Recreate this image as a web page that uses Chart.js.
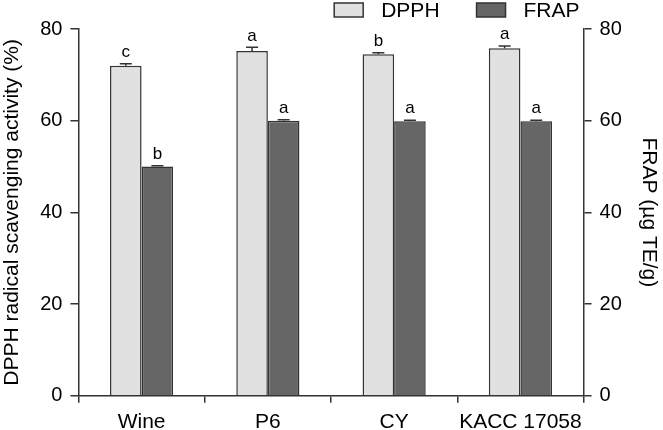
<!DOCTYPE html>
<html>
<head>
<meta charset="utf-8">
<script src="https://cdn.jsdelivr.net/npm/chart.js@4/dist/chart.umd.min.js"></script>
<style>
  body { margin: 0; background: #fff; }
  #wrap { width: 663px; height: 430px; }
</style>
</head>
<body>
<div id="wrap"><canvas id="grafico"></canvas></div>
<script>
// datos
const muestras = ['Wine', 'P6', 'CY', 'KACC 17058'];
const dpph = [72.0, 75.2, 74.5, 75.8];
const dpphErr = [0.4, 0.8, 0.3, 0.5];
const dpphLetras = ['c', 'a', 'b', 'a'];
const frap = [50.0, 60.0, 59.9, 59.9];
const frapErr = [0.2, 0.2, 0.2, 0.2];
const frapLetras = ['b', 'a', 'a', 'a'];
const ticksY = [0, 20, 40, 60, 80];

const fuente = "'Liberation Sans', Arial, sans-serif";
const oscuro = '#333333';

// barras de error + letras de significancia
const errorBars = {
  id: 'errorBars',
  afterDatasetsDraw(chart) {
    const ctx = chart.ctx;
    chart.data.datasets.forEach((ds, i) => {
      const meta = chart.getDatasetMeta(i);
      const escala = chart.scales[meta.yAxisID];
      meta.data.forEach((bar, j) => {
        const tope = escala.getPixelForValue(ds.data[j] + ds.errores[j]);
        ctx.save();
        ctx.strokeStyle = oscuro;
        ctx.lineWidth = 1.5;
        ctx.beginPath();
        ctx.moveTo(bar.x, bar.y);
        ctx.lineTo(bar.x, tope);
        ctx.moveTo(bar.x - 6, tope);
        ctx.lineTo(bar.x + 6, tope);
        ctx.stroke();
        ctx.fillStyle = '#000';
        ctx.font = '17px ' + fuente;
        ctx.textAlign = 'center';
        ctx.textBaseline = 'bottom';
        ctx.fillText(ds.letras[j], bar.x, tope - 3);
        ctx.restore();
      });
    });
  }
};

// leyenda arriba a la derecha, alineada con el area del grafico
const leyenda = {
  id: 'leyenda',
  afterDraw(chart) {
    const ctx = chart.ctx;
    ctx.save();
    ctx.font = '21px ' + fuente;
    ctx.textBaseline = 'middle';
    ctx.textAlign = 'left';
    let x = chart.chartArea.right - 4;
    const y = 10;
    const items = chart.data.datasets.slice().reverse();
    items.forEach((ds) => {
      const w = ctx.measureText(ds.label).width;
      x -= w;
      ctx.fillStyle = '#000';
      ctx.fillText(ds.label, x, y + 1);
      x -= 18 + 29;
      ctx.fillStyle = ds.backgroundColor;
      ctx.fillRect(x, y - 7, 29, 14);
      ctx.strokeStyle = oscuro;
      ctx.lineWidth = 1.5;
      ctx.strokeRect(x, y - 7, 29, 14);
      x -= 37;
    });
    ctx.restore();
  }
};

const ejeY = (pos, titulo, sep) => ({
  position: pos,
  min: 0,
  max: 80,
  afterBuildTicks: (axis) => { axis.ticks = ticksY.map(v => ({ value: v })); },
  border: { display: true, color: oscuro, width: 1.5 },
  grid: { drawOnChartArea: false, drawTicks: true, tickLength: 8, color: oscuro, lineWidth: 1.5 },
  ticks: { color: '#000', font: { size: 20, family: fuente }, padding: 8 },
  title: { display: true, text: titulo, color: '#000', font: { size: 21, family: fuente }, padding: { top: 0, bottom: sep } }
});

new Chart(document.getElementById('grafico'), {
  type: 'bar',
  data: {
    labels: muestras,
    datasets: [
      {
        label: 'DPPH',
        data: dpph,
        errores: dpphErr,
        letras: dpphLetras,
        backgroundColor: '#e1e1e1',
        borderColor: oscuro,
        borderWidth: 1.5,
        yAxisID: 'y'
      },
      {
        label: 'FRAP',
        data: frap,
        errores: frapErr,
        letras: frapLetras,
        backgroundColor: '#666666',
        borderColor: oscuro,
        borderWidth: 1.5,
        yAxisID: 'y1'
      }
    ]
  },
  options: {
    responsive: true,
    maintainAspectRatio: false,
    animation: false,
    categoryPercentage: 0.5,
    barPercentage: 1.0,
    layout: { padding: { left: 0, right: 2, top: 29, bottom: -12 } },
    plugins: {
      legend: { display: false },
      tooltip: { enabled: false }
    },
    scales: {
      x: {
        border: { display: true, color: oscuro, width: 1.5 },
        grid: { offset: true, drawOnChartArea: false, drawTicks: true, tickLength: 7, color: oscuro, lineWidth: 1.5 },
        ticks: { color: '#000', font: { size: 21, family: fuente }, padding: 7, autoSkip: false, maxRotation: 0, minRotation: 0 }
      },
      y: ejeY('left', 'DPPH radical scavenging activity (%)', 7),
      y1: ejeY('right', 'FRAP (µg TE/g)', 6)
    }
  },
  plugins: [errorBars, leyenda]
});
</script>
</body>
</html>
